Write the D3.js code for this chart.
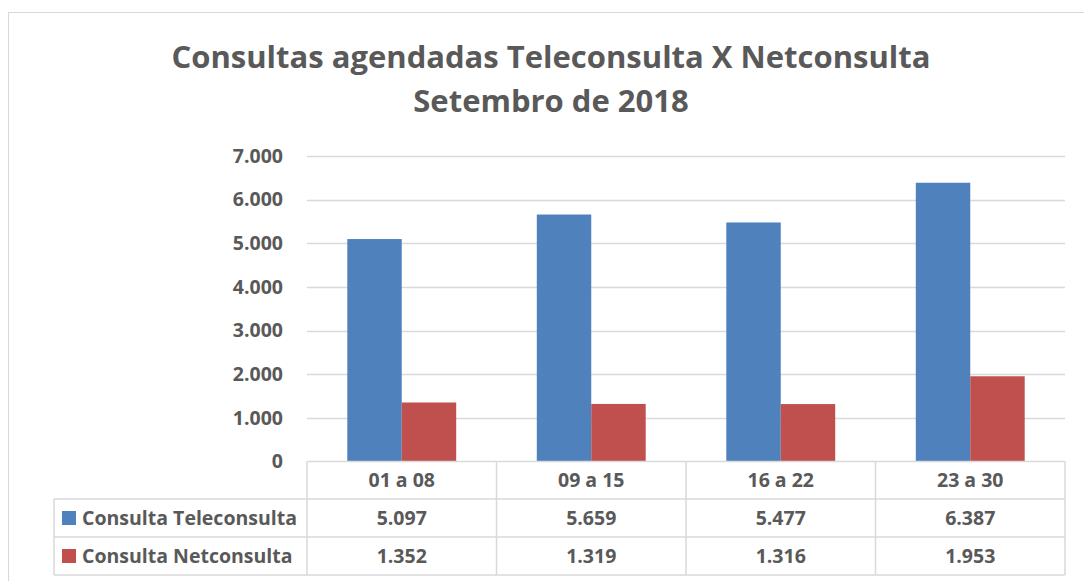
<!DOCTYPE html>
<html>
<head>
<meta charset="utf-8">
<script src="https://cdn.jsdelivr.net/npm/d3@7"></script>
<style>
  body { margin: 0; background: #fff; }
  svg { display: block; font-family: "Open Sans", sans-serif; }
</style>
</head>
<body>
<div id="viz"></div>
<script>
// data
const categories = ['01 a 08', '09 a 15', '16 a 22', '23 a 30'];
const seriesNames = ['Consulta Teleconsulta', 'Consulta Netconsulta'];
const teleconsulta = [5097, 5659, 5477, 6387];
const netconsulta = [1352, 1319, 1316, 1953];
const yTicks = [0, 1000, 2000, 3000, 4000, 5000, 6000, 7000];
const titleLines = ['Consultas agendadas Teleconsulta X Netconsulta', 'Setembro de 2018'];

const colors = ['#4F81BD', '#C0504D'];
const textColor = '#595959';
const gridColor = '#D9D9D9';

const width = 1084, height = 581;
const plot = { left: 307, right: 1065, top: 156, bottom: 461.5 };
const table = { left: 54, rowH: [37.5, 38, 38] };
const labelSize = 19.5;

const fmt = v => d3.format(',')(v).replace(/,/g, '.');

const svg = d3.select('#viz').append('svg')
  .attr('width', width)
  .attr('height', height);

// outer chart frame
svg.append('rect')
  .attr('x', 8.5).attr('y', 12.5)
  .attr('width', width + 20).attr('height', height + 20)
  .attr('fill', 'none').attr('stroke', gridColor);

// title
svg.append('g').selectAll('text')
  .data(titleLines)
  .join('text')
  .attr('x', 551)
  .attr('y', (d, i) => 68 + i * 44)
  .attr('text-anchor', 'middle')
  .attr('fill', textColor)
  .attr('font-size', 31)
  .attr('font-weight', 'bold')
  .text(d => d);

const x0 = d3.scaleBand()
  .domain(categories)
  .range([plot.left, plot.right]);

const x1 = d3.scaleBand()
  .domain(seriesNames)
  .range([0, x0.bandwidth()])
  .paddingOuter(0.74);

const y = d3.scaleLinear()
  .domain([0, 7000])
  .range([plot.bottom, plot.top]);

// gridlines
svg.append('g').selectAll('line')
  .data(yTicks.filter(d => d > 0))
  .join('line')
  .attr('x1', plot.left).attr('x2', plot.right)
  .attr('y1', d => Math.round(y(d)) + 0.5).attr('y2', d => Math.round(y(d)) + 0.5)
  .attr('stroke', gridColor).attr('stroke-width', 1.5);

// y axis labels
const yAxis = svg.append('g')
  .attr('transform', `translate(${plot.left},0)`)
  .call(d3.axisLeft(y).tickValues(yTicks).tickFormat(fmt).tickSize(0).tickPadding(24));
yAxis.select('.domain').remove();
yAxis.selectAll('text')
  .attr('fill', textColor)
  .attr('font-size', labelSize)
  .attr('font-weight', 'bold')
  .attr('font-family', '"Open Sans", sans-serif');

// bars
const values = [teleconsulta, netconsulta];
const rows = categories.map((c, i) => ({ cat: c, vals: seriesNames.map((s, j) => ({ s, j, v: values[j][i] })) }));

svg.append('g').selectAll('g')
  .data(rows)
  .join('g')
  .attr('transform', d => `translate(${x0(d.cat)},0)`)
  .selectAll('rect')
  .data(d => d.vals)
  .join('rect')
  .attr('x', d => x1(d.s))
  .attr('width', x1.bandwidth())
  .attr('y', d => y(d.v))
  .attr('height', d => y(0) - y(d.v))
  .attr('fill', d => colors[d.j]);

// data table
const rowTops = [plot.bottom];
table.rowH.forEach((h, i) => rowTops.push(rowTops[i] + h));
const tbl = svg.append('g')
  .attr('stroke', gridColor).attr('stroke-width', 1.5).attr('fill', 'none');

// horizontal lines
rowTops.forEach((yy, i) => {
  tbl.append('line')
    .attr('x1', i < 1 ? plot.left : table.left).attr('x2', plot.right)
    .attr('y1', yy).attr('y2', yy);
});
// vertical lines
const vx = categories.map(c => x0(c)).concat([plot.right]);
vx.forEach(xx => {
  tbl.append('line')
    .attr('x1', xx).attr('x2', xx)
    .attr('y1', rowTops[0]).attr('y2', rowTops[3]);
});
tbl.append('line')
  .attr('x1', table.left).attr('x2', table.left)
  .attr('y1', rowTops[1]).attr('y2', rowTops[3]);

const txt = svg.append('g')
  .attr('fill', textColor)
  .attr('font-size', labelSize)
  .attr('font-weight', 'bold');

// header
txt.selectAll('.hdr')
  .data(categories)
  .join('text')
  .attr('class', 'hdr')
  .attr('x', d => x0(d) + x0.bandwidth() / 2)
  .attr('y', (rowTops[0] + rowTops[1]) / 2)
  .attr('dy', '0.35em')
  .attr('text-anchor', 'middle')
  .text(d => d);

// series rows
seriesNames.forEach((s, j) => {
  const cy = (rowTops[j + 1] + rowTops[j + 2]) / 2;
  svg.append('rect')
    .attr('x', 62).attr('y', cy - 7)
    .attr('width', 14).attr('height', 14)
    .attr('fill', colors[j]);
  txt.append('text')
    .attr('x', 82).attr('y', cy).attr('dy', '0.35em')
    .text(s);
  txt.selectAll(`.v${j}`)
    .data(values[j])
    .join('text')
    .attr('class', `v${j}`)
    .attr('x', (d, i) => x0(categories[i]) + x0.bandwidth() / 2)
    .attr('y', cy).attr('dy', '0.35em')
    .attr('text-anchor', 'middle')
    .text(d => fmt(d));
});
</script>
</body>
</html>
